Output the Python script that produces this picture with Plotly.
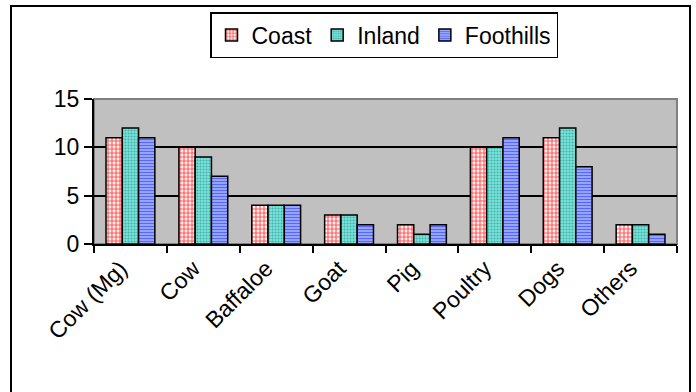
import plotly.graph_objects as go

categories = ["Cow (Mg)", "Cow", "Baffaloe", "Goat", "Pig", "Poultry", "Dogs", "Others"]
coast = [11, 10, 4, 3, 2, 10, 11, 2]
inland = [12, 9, 4, 3, 1, 10, 12, 2]
foothills = [11, 7, 4, 2, 2, 11, 8, 1]

FONT = "Arial, Liberation Sans, sans-serif"

fig = go.Figure()
fig.add_bar(
    name="Coast", x=categories, y=coast,
    marker=dict(color="white", line=dict(color="black", width=1.5),
                pattern=dict(shape="+", fgcolor="#FF5A5A", bgcolor="#FFF4F4",
                             size=4, solidity=0.5, fillmode="replace")),
)
fig.add_bar(
    name="Inland", x=categories, y=inland,
    marker=dict(color="#72DCD4", line=dict(color="black", width=1.5),
                pattern=dict(shape=".", fgcolor="#3FB3AB", bgcolor="#7EE2DA",
                             size=3, solidity=0.4, fillmode="replace")),
)
fig.add_bar(
    name="Foothills", x=categories, y=foothills,
    marker=dict(color="#8FA0FF", line=dict(color="black", width=1.5),
                pattern=dict(shape="-", fgcolor="#5468FF", bgcolor="#C4CCFF",
                             size=3, solidity=0.6, fillmode="replace")),
)

# plot-area geometry (px)
L, R, T, B = 94, 677, 99, 244
W, H = 696, 392
pw, ph = R - L, B - T

def px(x):
    return (x - L) / pw

def py(y):
    return (B - y) / ph

fig.update_layout(
    width=W, height=H,
    margin=dict(l=L, r=W - R, t=T, b=H - B),
    paper_bgcolor="white",
    plot_bgcolor="#C0C0C0",
    barmode="group",
    bargap=0.33,
    bargroupgap=0,
    font=dict(family=FONT, size=23, color="black"),
    showlegend=True,
    legend=dict(
        orientation="h",
        x=px(384), xanchor="center",
        y=py(12), yanchor="top",
        bgcolor="white",
        bordercolor="black", borderwidth=1.5,
        font=dict(family=FONT, size=23, color="black"),
        itemwidth=30,
        tracegroupgap=0,
    ),
    shapes=[
        # grey frame around the plot area
        dict(type="rect", xref="paper", yref="paper", x0=0, x1=1, y0=0, y1=1,
             line=dict(color="#808080", width=2), fillcolor="rgba(0,0,0,0)",
             layer="below"),
        # outer chart border
        dict(type="rect", xref="paper", yref="paper",
             x0=px(11), x1=px(690), y0=py(6), y1=py(420),
             line=dict(color="black", width=2), fillcolor="rgba(0,0,0,0)"),
    ],
)

fig.update_yaxes(
    range=[0, 15], dtick=5,
    showgrid=True, gridcolor="black", gridwidth=1.5,
    zeroline=False,
    showline=True, linecolor="black", linewidth=2,
    ticks="outside", ticklen=8, tickcolor="black", tickwidth=1.5,
    tickfont=dict(family=FONT, size=23, color="black"),
)
fig.update_xaxes(
    showgrid=False,
    showline=True, linecolor="black", linewidth=2,
    ticks="outside", ticklen=7, tickcolor="black", tickwidth=1.5,
    tickson="boundaries",
    tickangle=-45,
    ticklabelshift=-10,
    tickfont=dict(family=FONT, size=23, color="black"),
)

fig.write_html("out.html")
